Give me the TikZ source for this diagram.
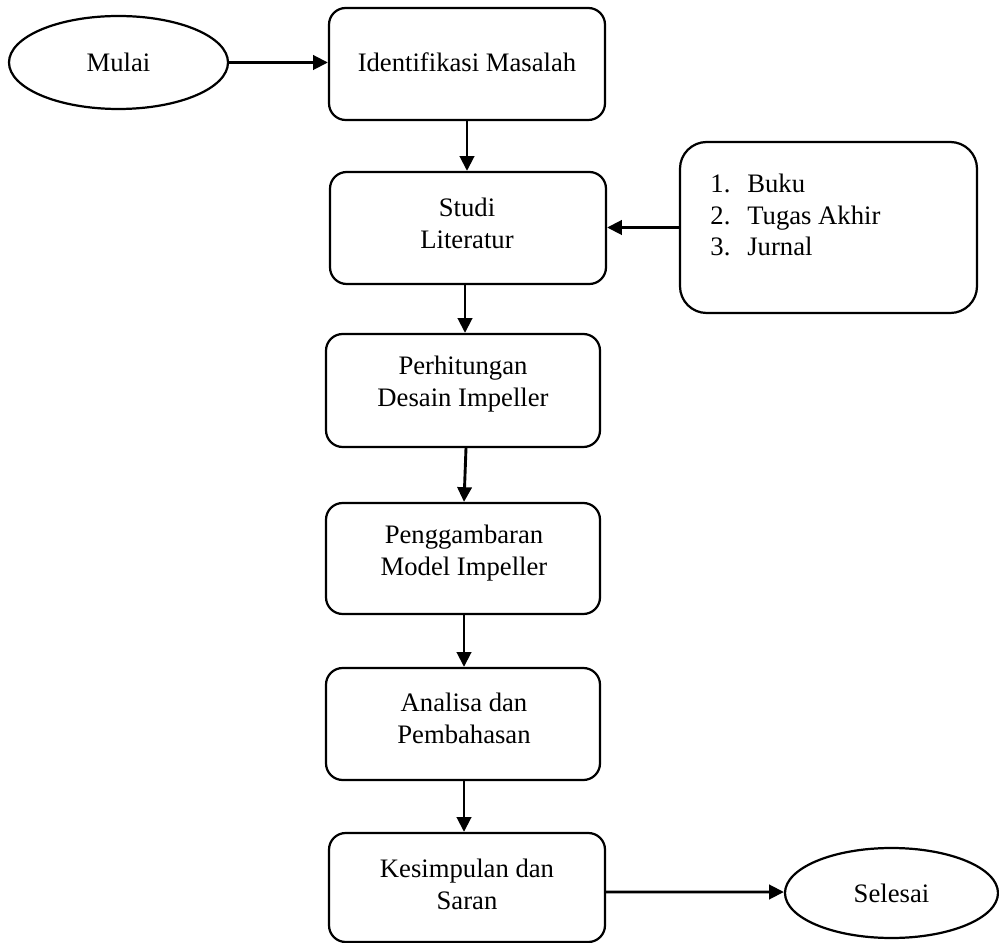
\documentclass[tikz,border=0pt]{standalone}
\usepackage{fontspec}
\setmainfont{Liberation Serif}
\usetikzlibrary{shapes.geometric,arrows.meta,calc}
\begin{document}
\begin{tikzpicture}[x=0.45pt,y=-0.45pt,
  font=\fontsize{12}{14.4}\selectfont,
  box/.style={draw,line width=1pt,rounded corners=7.5pt,inner sep=0pt},
  oval/.style={draw,line width=1pt,ellipse,inner sep=0pt},
  txt/.style={align=center,inner sep=0pt},
  arr/.style={line width=1.3pt,-{Triangle[length=6.6pt,width=6.4pt]}}]
\useasboundingbox (0,0) rectangle (999,943);
% start / end
\node[oval,minimum width=219*0.45pt,minimum height=93*0.45pt] (m) at (118.5,62.5) {Mulai};
\node[oval,minimum width=213*0.45pt,minimum height=90*0.45pt] (s) at (891.5,893) {Selesai};
% boxes
\node[box,minimum width=276*0.45pt,minimum height=112*0.45pt] (b1) at (467,64) {};
\node[box,minimum width=276*0.45pt,minimum height=112*0.45pt] (b2) at (468,228) {};
\node[box,minimum width=274*0.45pt,minimum height=113*0.45pt] (b3) at (463,390.5) {};
\node[box,minimum width=274*0.45pt,minimum height=111*0.45pt] (b4) at (463,558.5) {};
\node[box,minimum width=274*0.45pt,minimum height=112*0.45pt] (b5) at (463,724) {};
\node[box,minimum width=276*0.45pt,minimum height=109*0.45pt] (b6) at (467,887.5) {};
\node[box,rounded corners=12pt,minimum width=297*0.45pt,minimum height=171*0.45pt] (l) at (828.5,227.5) {};
% texts
\node[txt] (t1) at (467,62) {Identifikasi Masalah};
\node[txt] (t2) at (467,223) {Studi\\Literatur};
\node[txt] (t3) at (463,384) {Perhitungan\\Desain Impeller};
\node[txt] (t4) at (464,553) {Penggambaran\\Model Impeller};
\node[txt] (t5) at (464,718) {Analisa dan\\Pembahasan};
\node[txt] (t6) at (467,884) {Kesimpulan dan\\Saran};
\node[align=left,inner sep=0pt,anchor=west,font=\fontsize{12}{14}\selectfont] (tl) at (710,215)
  {\makebox[16.6pt][l]{1.}Buku\\\makebox[16.6pt][l]{2.}Tugas Akhir\\\makebox[16.6pt][l]{3.}Jurnal};
% connectors
\draw[arr] (m.east) -- (m.east -| b1.west);
\draw[arr] (b1.south) -- (b1.south |- b2.north);
\draw[arr] (l.west) -- (l.west -| b2.east);
\draw[arr] ($(b2.south)+(-3,0)$) -- ($(b2.south |- b3.north)+(-3,0)$);
\draw[arr] ($(b3.south)+(3,0)$) -- ($(b4.north)+(1,0)$);
\draw[arr] ($(b4.south)+(1,0)$) -- ($(b4.south |- b5.north)+(1,0)$);
\draw[arr] ($(b5.south)+(1,0)$) -- ($(b5.south |- b6.north)+(1,0)$);
\draw[arr] ($(b6.east)+(0,4.5)$) -- ($(s.west)+(0,-1)$);
\end{tikzpicture}
\end{document}
